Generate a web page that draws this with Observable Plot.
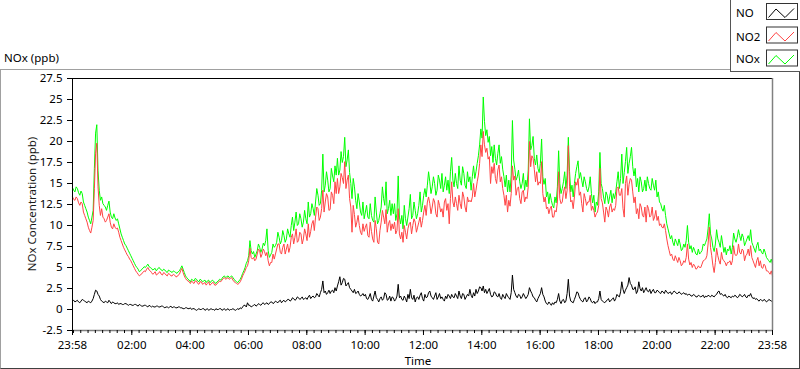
<!DOCTYPE html>
<html>
<head>
<meta charset="utf-8">
<script src="https://cdn.jsdelivr.net/npm/d3@7"></script>
<script src="https://cdn.jsdelivr.net/npm/@observablehq/plot@0.6"></script>
<style>
  html, body { margin: 0; padding: 0; background: #fff; }
  #root { position: relative; width: 800px; height: 369px; background: #fff; overflow: hidden;
          font-family: "Noto Sans", "Segoe UI", sans-serif; }
  #panel { position: absolute; left: 0; top: 69px; width: 800px; height: 300px; }
  #panelBorder { position: absolute; left: 0; top: 69px; width: 800px; height: 300px; box-sizing: border-box;
                 border: 1px solid; border-color: #a0a0a0 #404040 #404040 #a0a0a0; pointer-events: none; }
  #header { position: absolute; left: 0; top: 0; z-index: 2; }
</style>
</head>
<body>
<div id="root">
  <div id="panel"></div>
  <div id="panelBorder"></div>
  <svg id="header" width="800" height="74"></svg>
</div>
<script>
// ---- Data (2.5-minute samples from 23:58 to 23:58 next day; one row = one hour) ----
const startLabel = "23:58";
const stepMinutes = 2.5;

const noxValues = [
  14.5,14.2,14.0,14.6,14.4,13.9,13.6,14.1,13.8,12.8,12.4,12.0,11.6,11.0,10.6,10.2,11.0,11.8,16.8,21.0,22.0,16.5,14.2,13.0,
  13.4,12.6,12.4,12.2,11.8,12.4,12.9,11.6,11.0,10.8,11.4,10.9,10.6,10.8,10.2,9.6,9.0,8.6,8.2,7.8,7.6,7.3,7.0,6.7,
  6.4,6.1,5.8,5.5,5.2,5.0,4.8,4.5,4.6,4.8,4.9,5.1,5.0,5.2,5.4,5.1,5.0,4.9,4.7,4.8,4.9,4.6,4.8,5.0,
  4.9,4.7,4.6,4.8,4.7,4.5,4.4,4.7,4.6,4.5,4.4,4.6,4.5,4.4,4.3,4.5,4.6,4.9,5.2,4.8,4.4,4.0,3.8,3.6,
  3.5,3.3,3.6,3.5,3.4,3.7,3.6,3.4,3.3,3.6,3.5,3.3,3.4,3.5,3.2,3.4,3.5,3.2,3.3,3.5,3.4,3.2,3.1,3.3,
  3.4,3.6,3.5,3.7,3.9,4.0,3.8,3.9,4.0,3.8,3.9,4.0,3.8,3.6,3.4,3.3,3.2,3.4,3.6,3.9,4.3,4.6,5.0,5.5,
  5.8,6.4,8.2,7.0,6.6,6.9,6.2,6.6,7.0,7.8,7.4,6.8,7.2,7.9,7.6,8.2,9.6,7.0,6.2,6.5,6.8,7.8,7.4,7.6,
  8.0,9.2,8.6,7.8,8.2,9.4,8.8,8.0,8.4,9.6,9.0,8.6,10.0,11.0,9.4,10.4,11.6,10.0,10.2,11.4,10.8,9.8,10.4,11.8,
  10.8,10.2,12.8,11.0,11.4,12.6,12.0,11.2,12.8,14.4,13.6,12.4,12.6,14.2,18.5,14.0,14.8,16.4,15.4,14.0,14.4,16.8,15.9,15.2,
  17.1,16.0,18.0,16.0,16.6,18.8,17.5,18.2,20.5,17.0,17.8,19.0,16.3,15.0,13.2,15.6,14.6,13.0,12.0,13.8,12.8,11.6,11.2,12.8,
  10.8,11.6,12.4,11.0,10.8,12.6,11.2,10.6,10.4,13.4,11.6,10.2,10.6,11.4,12.2,14.6,13.2,12.4,15.2,11.4,12.0,13.0,11.2,12.6,
  11.4,12.6,10.6,11.4,15.9,11.0,10.2,11.2,9.6,12.4,10.8,10.0,11.0,12.0,13.7,10.8,11.2,12.8,11.8,10.8,11.4,12.4,14.0,11.6,
  12.4,13.6,14.4,13.4,14.8,16.4,15.2,13.8,14.6,15.8,15.0,13.6,14.2,16.0,15.4,14.4,16.2,14.0,14.8,15.8,14.2,15.4,13.8,16.4,
  18.1,15.4,14.6,16.2,15.0,14.4,17.1,15.4,14.8,17.0,16.2,14.8,14.4,16.4,15.2,15.8,14.2,15.8,17.1,15.6,16.4,17.4,18.3,19.6,
  21.5,20.4,25.3,22.4,20.7,21.4,19.9,20.6,18.3,19.4,17.5,19.6,18.0,17.2,18.6,19.6,17.4,18.2,16.7,15.8,14.6,16.0,14.0,15.4,
  14.0,16.0,22.5,17.8,16.7,15.4,15.8,16.6,15.2,14.4,15.0,16.2,14.2,15.4,14.6,16.6,22.7,19.0,19.5,20.6,18.0,17.2,18.4,16.8,
  16.3,17.4,20.3,15.8,14.9,15.6,13.4,14.0,12.6,13.8,13.0,12.4,12.1,13.4,12.7,14.6,18.9,15.0,13.8,14.4,15.2,16.4,14.4,16.0,
  20.5,16.4,14.0,14.8,13.4,15.0,16.2,17.0,17.7,15.6,16.3,15.4,14.6,15.8,15.2,14.4,14.0,14.6,15.8,13.8,12.7,13.6,11.6,12.8,
  12.4,14.0,18.7,15.0,14.4,13.4,12.6,14.0,13.6,12.6,13.4,14.2,12.7,13.8,13.2,14.0,15.2,16.4,14.4,15.6,18.5,15.0,16.3,17.6,
  19.3,16.2,17.4,18.2,19.3,17.0,15.9,16.8,14.6,15.6,14.0,15.8,15.2,14.0,14.4,15.4,14.1,15.8,15.0,14.4,14.2,15.6,14.8,14.2,
  15.4,13.4,14.0,12.8,12.6,12.0,11.7,12.4,11.2,10.2,9.6,9.0,8.4,8.8,8.0,7.6,8.4,8.0,7.6,8.4,7.8,7.0,7.2,7.8,
  7.4,8.2,10.0,8.0,7.2,7.6,6.8,7.4,7.0,6.6,6.5,7.2,6.6,6.8,7.0,7.8,7.6,8.0,8.4,9.6,11.4,9.0,8.4,7.4,
  6.9,7.8,9.5,8.4,8.0,7.4,8.8,7.8,6.8,7.4,6.5,7.2,7.0,7.6,6.6,7.4,9.1,8.4,8.0,8.6,9.5,8.8,8.2,9.0,
  8.6,7.6,8.0,8.4,8.8,8.2,9.5,8.0,7.6,7.2,6.8,7.6,8.0,7.0,7.2,6.8,6.6,7.2,6.8,6.2,6.0,5.8,5.6,6.0,5.4
];

const no2Values = [
  13.4,13.1,13.0,13.4,13.2,12.7,12.4,12.8,12.6,11.6,11.2,10.8,10.4,9.8,9.4,9.1,9.8,10.6,14.4,18.6,19.8,14.6,12.4,11.2,
  12.0,11.0,10.8,10.4,10.6,11.0,11.4,10.4,9.8,9.6,10.2,9.8,9.6,9.7,9.2,8.6,8.2,7.8,7.4,7.1,6.8,6.5,6.3,6.0,
  5.8,5.5,5.2,4.9,4.6,4.4,4.2,4.0,4.1,4.3,4.4,4.6,4.5,4.8,5.0,4.7,4.6,4.4,4.2,4.3,4.5,4.1,4.2,4.4,
  4.5,4.2,4.1,4.4,4.3,4.1,4.0,4.3,4.2,4.0,4.0,4.2,4.1,3.9,3.9,4.1,4.2,4.6,4.9,4.4,4.0,3.7,3.5,3.4,
  3.3,3.1,3.4,3.2,3.1,3.4,3.4,3.1,3.0,3.3,3.3,3.0,3.1,3.2,2.9,3.1,3.3,2.9,3.0,3.2,3.2,2.9,2.9,3.1,
  3.2,3.4,3.3,3.5,3.7,3.8,3.6,3.7,3.8,3.6,3.7,3.8,3.5,3.3,3.2,3.1,3.0,3.1,3.3,3.6,4.0,4.3,4.6,5.0,
  5.2,5.8,7.3,6.2,6.0,6.2,5.8,6.0,6.6,7.2,7.0,6.2,6.6,7.2,6.9,6.4,6.8,5.8,5.2,5.6,5.6,6.6,6.0,6.6,
  7.2,7.8,7.8,6.8,6.6,7.4,7.8,6.6,7.2,7.8,6.8,7.4,8.6,9.0,7.8,8.6,9.6,8.0,8.2,9.2,9.0,7.8,8.4,9.6,
  9.0,8.2,10.2,8.6,9.3,10.2,10.6,9.4,11.0,12.2,12.0,10.6,11.0,12.0,14.2,11.6,12.8,13.8,13.4,11.8,11.9,14.0,13.6,12.6,
  15.2,13.8,15.6,13.8,14.6,16.2,15.7,15.0,17.6,14.4,15.4,16.0,13.2,12.2,9.2,12.4,11.3,9.8,10.4,11.2,10.0,9.2,8.9,10.2,
  9.3,9.8,10.2,8.8,8.6,10.4,9.3,8.4,8.0,10.6,9.6,8.0,7.8,9.4,10.4,11.8,11.0,10.2,11.9,9.2,10.2,10.6,9.4,10.2,
  9.6,10.4,9.0,9.4,12.0,9.0,8.4,9.2,8.0,10.0,9.2,8.4,9.6,10.2,10.4,9.0,10.0,10.8,10.4,9.2,9.8,10.4,11.0,9.8,
  10.6,11.6,12.4,11.2,12.8,13.4,12.6,11.4,12.2,13.2,12.8,11.4,11.0,13.0,12.4,11.6,12.0,11.0,12.8,13.2,11.8,12.6,10.2,13.2,
  15.2,12.8,12.2,13.4,12.6,11.8,13.6,12.6,12.0,14.0,13.4,12.2,11.6,13.4,12.8,13.0,12.8,13.4,15.0,13.4,14.2,15.2,16.0,17.4,
  19.6,18.2,21.2,19.6,18.7,19.2,17.9,18.2,15.0,17.0,16.2,17.4,15.6,15.0,16.6,17.2,15.2,15.8,14.4,13.6,12.4,13.6,11.6,13.0,
  12.3,13.8,17.1,15.4,15.9,13.6,14.4,14.6,13.2,12.6,14.0,14.2,12.8,13.4,13.2,14.6,20.0,17.0,18.3,18.0,16.7,15.2,16.4,14.8,
  15.2,15.0,17.6,13.8,12.8,13.4,12.0,12.2,11.4,12.0,12.3,11.0,11.0,11.8,11.6,12.8,16.4,13.2,12.6,12.8,14.0,14.6,13.2,14.2,
  19.5,14.6,12.8,13.0,12.0,13.4,15.2,14.8,15.6,13.6,14.0,12.6,11.6,13.8,13.2,12.4,12.8,12.8,13.6,11.8,12.3,11.8,11.0,11.4,
  11.6,12.4,16.8,13.2,12.7,11.6,10.4,12.2,11.8,11.0,12.2,12.6,11.6,12.0,11.8,12.4,14.4,14.6,13.6,13.6,14.4,12.0,11.0,15.0,
  15.9,13.6,14.9,15.6,15.4,14.0,12.7,13.4,11.4,12.0,10.8,12.6,12.2,11.2,11.0,12.2,10.4,12.4,12.0,11.0,11.2,12.2,10.6,11.0,
  11.8,10.6,11.1,10.0,10.2,9.8,9.7,10.2,9.4,8.4,7.6,7.0,6.4,6.6,6.0,5.8,6.4,6.0,5.6,6.2,5.8,5.2,5.4,5.8,
  5.6,6.2,7.8,6.0,5.3,5.6,5.0,5.4,5.2,4.8,4.9,5.2,5.0,5.0,5.4,5.8,5.9,6.0,6.4,7.8,9.8,7.4,6.4,5.2,
  4.4,5.6,7.3,6.4,5.8,5.4,6.8,6.0,5.8,5.6,5.2,5.6,5.6,5.8,5.3,5.8,7.6,6.6,6.4,6.6,7.8,6.8,6.6,7.2,
  7.0,5.8,6.4,6.6,7.2,6.4,7.6,6.2,5.8,5.4,5.0,5.8,6.2,5.2,5.8,5.0,4.9,5.4,5.2,4.6,4.6,4.4,4.2,4.6,4.0
];

const noValues = [
  1.0,1.1,0.9,1.0,1.1,0.9,0.8,1.0,1.2,1.1,1.0,0.9,0.8,1.0,0.9,0.8,1.0,1.3,1.8,2.3,2.2,1.8,1.6,1.2,
  1.0,0.9,0.8,1.0,0.9,0.8,1.1,0.9,0.7,0.9,0.8,0.7,0.7,0.8,0.6,0.7,0.7,0.6,0.6,0.7,0.7,0.6,0.5,0.6,
  0.6,0.5,0.5,0.6,0.6,0.5,0.4,0.6,0.5,0.4,0.4,0.5,0.5,0.4,0.3,0.5,0.4,0.3,0.4,0.3,0.3,0.4,0.4,0.3,
  0.3,0.4,0.4,0.3,0.2,0.3,0.3,0.2,0.3,0.4,0.2,0.3,0.3,0.2,0.2,0.3,0.3,0.2,0.2,0.1,0.1,0.2,0.2,0.1,
  0.1,0.2,0.0,0.1,0.1,0.0,-0.1,0.0,0.1,0.0,0.0,0.1,0.1,-0.1,0.0,0.1,-0.1,0.0,0.1,0.0,0.0,-0.1,0.1,0.0,
  0.0,0.1,0.1,-0.1,0.0,0.1,-0.1,0.0,0.1,-0.1,0.0,0.0,0.1,0.0,-0.1,0.0,0.1,0.0,0.2,0.1,0.3,0.5,0.5,0.3,
  0.8,0.5,0.5,0.3,0.4,0.5,0.6,0.4,0.5,0.7,0.6,0.5,0.7,0.8,0.6,0.7,0.8,0.6,0.7,0.9,0.9,0.7,0.8,1.0,
  0.9,0.8,1.0,1.1,0.8,1.0,1.1,0.9,1.0,1.2,1.2,1.0,1.1,1.4,1.3,1.1,1.2,1.5,1.4,1.2,1.3,1.5,1.2,1.3,
  1.4,1.2,1.5,1.7,1.3,1.5,1.6,1.4,1.5,1.9,1.7,1.5,2.0,2.4,3.4,2.0,2.2,1.8,2.0,2.3,1.9,2.2,2.3,2.0,
  2.6,2.2,2.8,3.3,3.9,2.9,3.2,3.7,3.6,2.8,3.0,3.2,2.6,2.4,2.2,2.0,2.4,1.9,2.0,2.2,1.8,1.6,1.7,1.9,
  1.6,1.8,1.3,1.2,1.5,1.9,1.2,1.0,1.6,2.2,1.4,1.2,0.9,1.3,1.5,1.1,1.3,2.0,1.8,1.1,1.2,1.6,1.0,1.5,
  1.4,1.0,1.2,1.6,3.0,1.4,1.6,1.2,1.1,1.6,1.3,0.9,1.8,1.3,2.4,1.4,1.2,1.7,0.9,1.4,1.5,1.2,1.7,2.0,
  1.3,1.0,1.8,1.4,1.5,2.0,2.2,1.6,1.4,1.2,1.6,2.0,1.2,1.5,1.9,1.3,1.5,1.2,1.0,1.6,1.3,1.8,1.6,1.3,
  1.8,1.5,1.4,1.9,1.6,1.3,2.2,1.6,1.3,1.9,1.8,1.2,1.5,1.8,1.6,2.4,1.7,1.4,2.0,1.6,2.4,1.9,2.2,2.7,
  2.6,2.2,2.8,2.0,2.4,1.9,2.2,2.5,1.8,1.5,1.6,2.1,2.0,1.6,1.5,1.9,1.4,1.2,1.8,1.5,1.3,1.9,1.6,1.4,
  1.2,2.0,4.1,2.4,2.0,1.6,1.4,1.8,1.7,1.3,1.5,1.9,1.6,1.3,1.5,1.8,2.6,2.2,1.9,1.5,1.4,1.1,0.9,1.3,
  1.6,1.9,2.6,1.8,1.5,1.0,0.7,0.6,0.9,0.7,0.5,0.8,0.6,0.9,0.8,1.2,1.9,1.0,0.7,1.1,1.2,0.8,1.0,1.9,
  3.6,1.6,1.0,0.9,0.8,1.2,1.6,2.1,2.0,1.5,1.2,1.0,0.9,1.3,1.4,0.9,1.1,1.5,1.3,0.9,0.8,1.0,0.7,0.9,
  0.9,1.3,2.2,1.2,1.0,0.9,0.8,1.0,1.1,1.3,0.9,1.1,1.2,1.4,1.0,1.3,1.8,1.6,1.5,2.1,3.3,2.4,1.9,2.3,
  2.6,2.9,3.8,3.1,2.9,2.4,2.4,2.7,1.9,2.2,3.3,2.5,2.2,2.6,2.0,2.3,2.6,2.2,2.1,2.4,1.9,2.2,2.4,2.0,
  2.0,2.3,2.2,2.0,1.9,2.2,2.1,1.9,2.3,2.1,1.9,2.0,2.1,1.8,2.0,2.2,2.1,1.9,1.9,2.1,2.0,1.8,1.9,2.0,
  1.8,1.9,1.7,1.8,1.8,1.6,1.6,1.8,1.7,1.5,1.5,1.7,1.6,1.5,1.6,1.7,1.4,1.6,1.5,1.7,1.6,1.5,1.7,1.6,
  1.5,1.7,1.8,2.1,2.2,1.8,1.9,1.7,1.6,1.8,1.5,1.4,1.6,1.5,1.4,1.6,1.5,1.7,1.6,1.4,1.5,1.8,1.7,1.5,
  1.6,1.8,1.5,1.4,1.7,1.6,1.9,1.5,1.3,1.4,1.2,1.3,1.1,1.0,1.2,1.1,1.0,1.2,1.1,0.9,1.0,1.2,1.1,1.0,1.0
];

const yTicks = [-2.5, 0, 2.5, 5, 7.5, 10, 12.5, 15, 17.5, 20, 22.5, 25, 27.5];
const xTickLabels = ["23:58", "02:00", "04:00", "06:00", "08:00", "10:00", "12:00",
                     "14:00", "16:00", "18:00", "20:00", "22:00", "23:58"];
const seriesNames = ["NO", "NO2", "NOx"];
const seriesColors = ["#000000", "#ff4444", "#00ff00"];

// ---- Build table ----
const [sh, sm] = startLabel.split(":").map(Number);
const start = new Date(2024, 0, 1, sh, sm);
const end = d3.timeMinute.offset(start, 24 * 60);
const timeAt = i => new Date(start.getTime() + i * stepMinutes * 60000);
const rows = [];
[noValues, no2Values, noxValues].forEach((vals, k) => {
  vals.forEach((v, i) => rows.push({series: seriesNames[k], t: timeAt(i), v}));
});
const majorTicks = xTickLabels.map((lab, i) => {
  if (i === 0) return start;
  if (i === xTickLabels.length - 1) return end;
  const [h, m] = lab.split(":").map(Number);
  return new Date(2024, 0, 2, h, m);
});
const minorTicks = d3.timeMinute.every(15).range(start, end);

const fmt = d3.timeFormat("%H:%M");
const plot = Plot.plot({
  width: 800,
  height: 300,
  marginLeft: 72,
  marginRight: 28,
  marginTop: 9,
  marginBottom: 39,
  style: {fontFamily: "'Noto Sans', 'Segoe UI', sans-serif", fontSize: "11.5px", color: "#000", background: "transparent", overflow: "visible"},
  x: {type: "time", domain: [start, end]},
  y: {domain: [-2.5, 27.5]},
  marks: [
    Plot.line(rows.filter(d => d.series === "NOx"), {x: "t", y: "v", stroke: seriesColors[2], strokeWidth: 1}),
    Plot.line(rows.filter(d => d.series === "NO2"), {x: "t", y: "v", stroke: seriesColors[1], strokeWidth: 1}),
    Plot.line(rows.filter(d => d.series === "NO"), {x: "t", y: "v", stroke: seriesColors[0], strokeWidth: 1}),
    Plot.ruleY([27.5], {stroke: "#000", strokeWidth: 1}),
    Plot.ruleY([-2.5], {stroke: "#808080", strokeWidth: 1.5}),
    Plot.ruleX([start], {stroke: "#000", strokeWidth: 1}),
    Plot.ruleX([end], {stroke: "#808080", strokeWidth: 1.5}),
    Plot.axisY({ticks: yTicks, tickSize: 5, tickPadding: 5, tickFormat: d => String(d), label: null}),
    Plot.axisX({ticks: minorTicks, tickSize: 3, tickFormat: () => "", label: null}),
    Plot.axisX({ticks: majorTicks, tickSize: 5, tickPadding: 5, tickFormat: d => fmt(d), label: null})
  ]
});
document.getElementById("panel").appendChild(plot);

const svg = d3.select(plot);
svg.append("text")
  .attr("transform", "translate(32,135) rotate(-90)")
  .attr("text-anchor", "middle").attr("dy", "0.35em")
  .attr("font-size", "11.5px").attr("fill", "#1a1a1a")
  .text("NOx Concentration (ppb)");
svg.append("text")
  .attr("x", 418).attr("y", 296)
  .attr("text-anchor", "middle")
  .attr("font-size", "11.5px").attr("fill", "#000")
  .text("Time");

// ---- Header: title and legend ----
const header = d3.select("#header").attr("font-family", "'Noto Sans', 'Segoe UI', sans-serif").attr("font-size", "11.5px");
header.append("text").attr("x", 4).attr("y", 62).text("NOx (ppb)");
header.append("rect").attr("x", 730.5).attr("y", -1).attr("width", 72).attr("height", 72.5)
  .attr("fill", "#fff").attr("stroke", "#555");
const legendY = [3.5, 27, 50];
const textY = [17, 40.5, 63];
seriesNames.forEach((name, k) => {
  header.append("text").attr("x", 736).attr("y", textY[k]).text(name);
  header.append("rect").attr("x", 766.5).attr("y", legendY[k]).attr("width", 31).attr("height", 16)
    .attr("fill", "#fff").attr("stroke", "#333");
  const x0 = 766.5, y0 = legendY[k];
  header.append("polyline")
    .attr("points", [[x0 + 2, y0 + 14], [x0 + 9.5, y0 + 5.5], [x0 + 18.5, y0 + 14], [x0 + 27.5, y0 + 5]].map(p => p.join(",")).join(" "))
    .attr("fill", "none").attr("stroke", seriesColors[k]).attr("stroke-width", 1);
});
</script>
</body>
</html>
